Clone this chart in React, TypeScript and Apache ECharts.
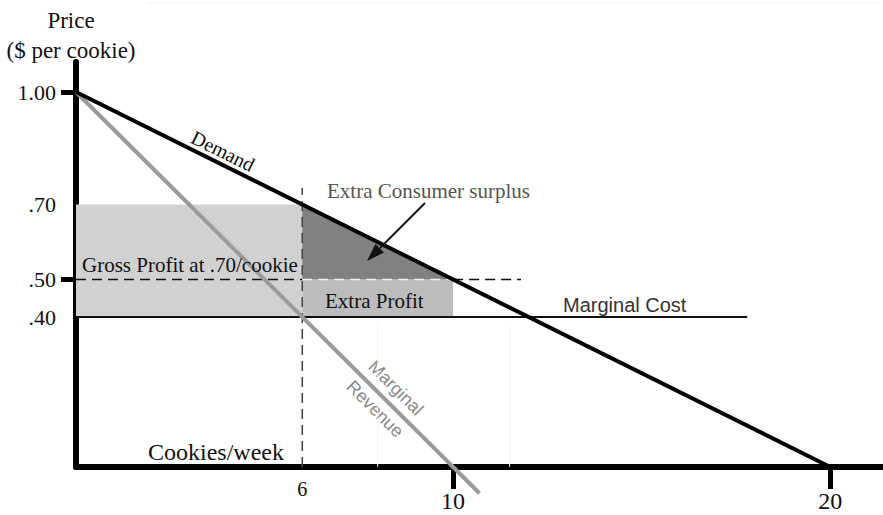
import React, { useEffect, useRef } from "react";
import * as echarts from "echarts";

// ---- data (quantity in cookies/week, price in $ per cookie) ----
const demandLine = [[0, 1.0], [20, 0]];
const marginalRevenueLine = [[0, 1.0], [10.7, -0.07]];
const marginalCostLine = [[0, 0.4], [17.8, 0.4]];
const priceDashLeft = [[0, 0.5], [6, 0.5]];
const priceDashMid = [[6, 0.5], [10, 0.5]];
const priceDashRight = [[10, 0.5], [11.8, 0.5]];
const quantityDash = [[6, 0], [6, 0.745]];
const faintGuideA = [[8, 0], [8, 0.38]];
const faintGuideB = [[11.5, 0], [11.5, 0.38]];
const grossProfitArea = [[0, 0.4], [6, 0.4], [6, 0.7], [0, 0.7]];
const extraProfitArea = [[6, 0.4], [10, 0.4], [10, 0.5], [6, 0.5]];
const extraSurplusArea = [[6, 0.5], [6, 0.7], [10, 0.5]];
const yTickLabels = [0.4, 0.5, 0.7, 1.0];
const yTickMarks = [0.5, 1.0];
const xTickLabels = [6, 10, 20];
const xTickMarks = [10, 20];

const SERIF = '"Liberation Serif", "Times New Roman", serif';
const SANS = '"Liberation Sans", Arial, sans-serif';

function seg(data: number[][], color: string, width: number, type: any = "solid", z = 3) {
  return {
    type: "line",
    data,
    symbol: "none",
    clip: false,
    silent: true,
    z,
    lineStyle: { color, width, type, cap: "butt" },
  };
}

function area(points: number[][], color: string, z = 1) {
  return {
    type: "custom",
    data: [[0, 0]],
    silent: true,
    z,
    renderItem: (_params: any, api: any) => ({
      type: "polygon",
      shape: { points: points.map((p) => api.coord(p)) },
      style: { fill: color },
    }),
  };
}

export default function App() {
  const ref = useRef<HTMLDivElement>(null);
  useEffect(() => {
    if (!ref.current) return;
    const chart = echarts.init(ref.current, undefined, { renderer: "svg" });
    const option: any = {
      animation: false,
      backgroundColor: "#ffffff",
      grid: { left: 76, right: 0, top: 62, bottom: 48, containLabel: false },
      xAxis: {
        type: "value",
        min: 0,
        max: 21.4,
        splitLine: { show: false },
        axisLine: { show: true, onZero: false, lineStyle: { color: "#000", width: 6 } },
        axisTick: {
          show: true,
          customValues: xTickMarks,
          length: 22,
          lineStyle: { color: "#000", width: 5 },
        },
        axisLabel: {
          customValues: xTickLabels,
          margin: 12,
          fontSize: 24,
          fontFamily: SERIF,
          color: "#111",
          formatter: (v: number) => (v === 6 ? "{s|6}" : `{b|${v}}`),
          rich: {
            s: { fontSize: 20, lineHeight: 19, fontFamily: SERIF, color: "#111" },
            b: { fontSize: 24, lineHeight: 43, fontFamily: SERIF, color: "#111" },
          },
        },
      },
      yAxis: {
        type: "value",
        min: 0,
        max: 1.08,
        splitLine: { show: false },
        axisLine: { show: true, onZero: false, lineStyle: { color: "#000", width: 6 } },
        axisTick: {
          show: true,
          customValues: yTickMarks,
          length: 15,
          lineStyle: { color: "#000", width: 5 },
        },
        axisLabel: {
          customValues: yTickLabels,
          margin: 20,
          fontSize: 22,
          fontFamily: SERIF,
          color: "#111",
          formatter: (v: number) =>
            Math.round(v * 100) === 100 ? "1.00" : "." + String(Math.round(v * 100)),
        },
      },
      series: [
        area(grossProfitArea, "#d1d1d1", 1),
        area(extraProfitArea, "#bdbdbd", 1),
        area(extraSurplusArea, "#818181", 1),
        seg(faintGuideA, "#f3f3f3", 1, "solid", 2),
        seg(faintGuideB, "#f3f3f3", 1, "solid", 2),
        seg(priceDashLeft, "#111", 1.5, [10, 6], 3),
        seg(priceDashMid, "#f4f4f4", 1.5, [10, 6], 3),
        seg(priceDashRight, "#111", 1.5, [10, 6], 3),
        seg(quantityDash, "#444", 1.5, [10, 6], 3),
        seg(marginalCostLine, "#111", 2, "solid", 4),
        seg(marginalRevenueLine, "#9a9a9a", 4, "solid", 5),
        seg(demandLine, "#000", 4, "solid", 6),
      ],
      graphic: [
        { type: "line", shape: { x1: 147, y1: 3, x2: 880, y2: 3 }, style: { stroke: "#f1f1f1", lineWidth: 1 }, silent: true },
        { type: "text", x: 71, y: 20, style: { text: "Price", fontSize: 23, fontFamily: SERIF, fill: "#111", align: "center", verticalAlign: "middle" } },
        { type: "text", x: 71, y: 50, style: { text: "($ per cookie)", fontSize: 23, fontFamily: SERIF, fill: "#111", align: "center", verticalAlign: "middle" } },
        { type: "text", x: 223, y: 151, rotation: -0.46, style: { text: "Demand", fontSize: 20, fontFamily: SERIF, fill: "#111", align: "center", verticalAlign: "middle" } },
        { type: "text", x: 327, y: 191, style: { text: "Extra Consumer surplus", fontSize: 21, fontFamily: SERIF, fill: "#555", align: "left", verticalAlign: "middle" } },
        { type: "line", shape: { x1: 425, y1: 203, x2: 380, y2: 248 }, style: { stroke: "#111", lineWidth: 2 }, z: 10 },
        { type: "polygon", shape: { points: [[367, 261], [384, 252.5], [375.5, 244]] }, style: { fill: "#111" }, z: 10 },
        { type: "text", x: 82, y: 265, style: { text: "Gross Profit at .70/cookie", fontSize: 21, fontFamily: SERIF, fill: "#111", align: "left", verticalAlign: "middle" }, z: 10 },
        { type: "text", x: 325, y: 301, style: { text: "Extra Profit", fontSize: 21, fontFamily: SERIF, fill: "#111", align: "left", verticalAlign: "middle" }, z: 10 },
        { type: "text", x: 563, y: 305, style: { text: "Marginal Cost", fontSize: 20, fontFamily: SANS, fill: "#333", align: "left", verticalAlign: "middle" } },
        { type: "text", x: 148, y: 452, style: { text: "Cookies/week", fontSize: 24, fontFamily: SERIF, fill: "#111", align: "left", verticalAlign: "middle" } },
        { type: "text", x: 396, y: 388, rotation: -Math.PI / 4, style: { text: "Marginal", fontSize: 18, fontFamily: SANS, fill: "#8a8a8a", align: "center", verticalAlign: "middle" } },
        { type: "text", x: 375, y: 409, rotation: -Math.PI / 4, style: { text: "Revenue", fontSize: 18, fontFamily: SANS, fill: "#8a8a8a", align: "center", verticalAlign: "middle" } },
      ],
    };
    chart.setOption(option);
    return () => chart.dispose();
  }, []);
  return (
    <div
      ref={ref}
      style={{ position: "fixed", left: 0, top: 0, width: 883, height: 515, background: "#fff" }}
    />
  );
}
